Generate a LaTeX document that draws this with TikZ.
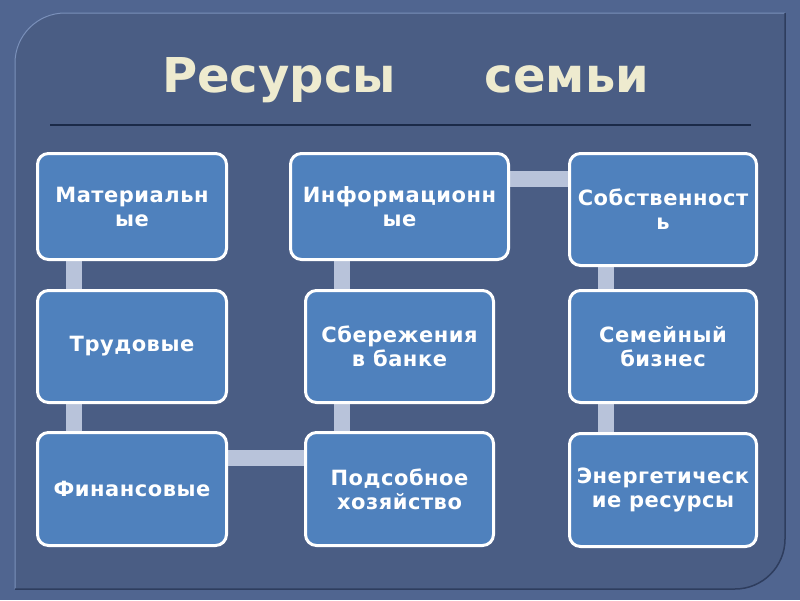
\documentclass[tikz,border=0pt]{standalone}
\usepackage{fontspec}
\setmainfont{DejaVu Sans}
\newfontfamily\boxfont{DejaVu Sans}[LetterSpace=2.5]
\usepackage{graphicx}
\definecolor{outerbg}{HTML}{506590}
\definecolor{panelc}{HTML}{4A5D84}
\definecolor{boxfill}{HTML}{4F81BD}
\definecolor{linkc}{HTML}{B8C3DA}
\definecolor{titlec}{HTML}{EEEBCF}
\definecolor{rulec}{HTML}{1B2A48}
\definecolor{edgelight}{HTML}{7A90BA}
\definecolor{edgedark}{HTML}{2E3D5E}
\pgfdeclarelayer{back}
\pgfdeclarelayer{links}
\pgfsetlayers{back,links,main}
\begin{document}
\begin{tikzpicture}[x=1pt,y=-1pt,
  res/.style={draw=white, line width=3pt, fill=boxfill, rounded corners=11pt,
    text=white, font=\boxfont\bfseries\fontsize{21}{24}\selectfont, align=center, inner sep=0pt},
  link/.style={draw=linkc, line width=16pt},
  titlestyle/.style={text=titlec, font=\bfseries\fontsize{48}{56}\selectfont, inner sep=0pt, anchor=base west}]
\useasboundingbox (0,0) rectangle (800,600);

% boxes
\node[res, minimum width=189pt, minimum height=106pt] (mat) at (132,206.5) {Материальн\\ые};
\node[res, minimum width=189pt, minimum height=112pt] (trud) at (132,346.5) {Трудовые};
\node[res, minimum width=189pt, minimum height=113pt] (fin) at (132,489) {Финансовые};
\node[res, minimum width=218pt, minimum height=106pt] (inform) at (399.5,206.5) {Информационн\\ые};
\node[res, minimum width=188pt, minimum height=112pt] (sber) at (399.5,346.5) {Сбережения\\в банке};
\node[res, minimum width=188pt, minimum height=113pt] (podsob) at (399.5,489) {Подсобное\\хозяйство};
\node[res, minimum width=187pt, minimum height=112pt] (sobst) at (663,209.5) {Собственност\\ь};
\node[res, minimum width=187pt, minimum height=112pt] (sem) at (663,346.5) {Семейный\\бизнес};
\node[res, minimum width=187pt, minimum height=113pt] (energ) at (663,490) {Энергетическ\\ие ресурсы};

% title
\node[titlestyle] (title) at (162,92) {Ресурсы\hspace{89pt}семьи};

\begin{pgfonlayer}{back}
  \fill[outerbg] (0,0) rectangle (800,600);
  \fill[panelc] (15,589) -- (15,63) .. controls (15,35.4) and (37.4,13) .. (65,13)
    -- (785,13) -- (785,539) .. controls (785,566.6) and (762.6,589) .. (735,589) -- cycle;
  \draw[edgelight, line width=1pt] (15,589) -- (15,63) .. controls (15,35.4) and (37.4,13) .. (65,13) -- (785,13);
  \draw[edgedark, line width=1.5pt] (785,13) -- (785,539) .. controls (785,566.6) and (762.6,589) .. (735,589) -- (15,589);
  \draw[rulec, line width=1.5pt] (50,125) -- (751,125);
\end{pgfonlayer}

\begin{pgfonlayer}{links}
  \draw[link] ([xshift=37.5pt]mat.south west) -- ([xshift=37.5pt]trud.north west);
  \draw[link] ([xshift=37.5pt]trud.south west) -- ([xshift=37.5pt]fin.north west);
  \draw[link] ([yshift=-26.5pt]fin.north east) -- ([yshift=-26.5pt]fin.north east -| podsob.west);
  \draw[link] ([xshift=38pt]podsob.north west) -- ([xshift=38pt]sber.south west);
  \draw[link] ([xshift=38pt]sber.north west) -- ([xshift=38pt]sber.north west |- inform.south);
  \draw[link] ([yshift=-26.5pt]inform.north east) -- ([yshift=-26.5pt]inform.north east -| sobst.west);
  \draw[link] ([xshift=38pt]sobst.south west) -- ([xshift=38pt]sem.north west);
  \draw[link] ([xshift=38pt]sem.south west) -- ([xshift=38pt]energ.north west);
\end{pgfonlayer}
\end{tikzpicture}
\end{document}
